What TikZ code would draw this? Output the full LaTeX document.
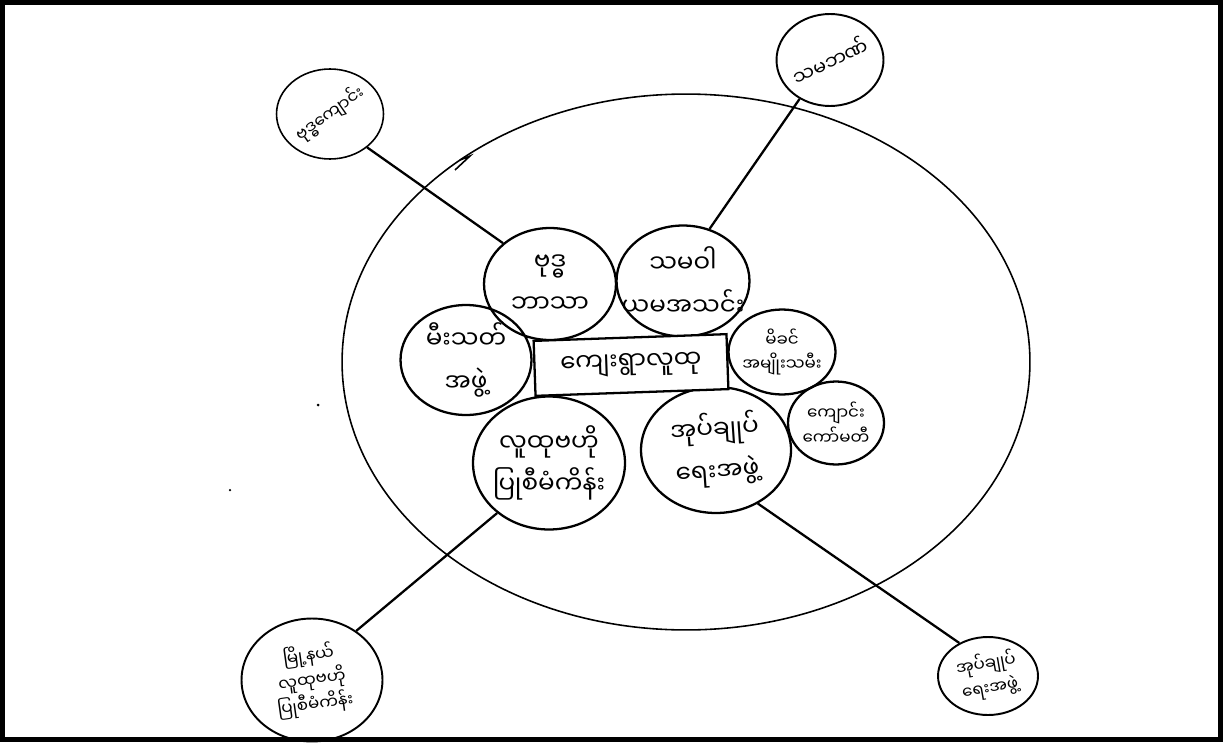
\documentclass[tikz,border=0pt]{standalone}
\usepackage{fontspec}
\newfontfamily\mmfont[Script=Myanmar]{Noto Sans Myanmar UI}
\usetikzlibrary{shapes.geometric}

\begin{document}
\begin{tikzpicture}[
        org/.style={ellipse, draw, line width=1.3pt, inner sep=0pt},
        far/.style={ellipse, draw, line width=1.1pt, inner sep=0pt},
        lbl/.style={align=center, inner sep=0pt, font=\mmfont\fontsize{14}{24}\selectfont},
        smalllbl/.style={align=center, inner sep=0pt, font=\mmfont\fontsize{11}{17}\selectfont},
        tinylbl/.style={align=center, inner sep=0pt, font=\mmfont\fontsize{9.5}{14}\selectfont},
        link/.style={line width=1.3pt}
    ]
        % Frame
        \useasboundingbox (0,0) rectangle (0.02* 1223, -0.02* 742);
        \draw[line width=0.1cm] (0.05,-0.05) rectangle (0.02* 1223-0.05, -0.02* 742+0.05);

        % Community
        \node[ellipse, draw, line width=0.9pt, minimum width=13.76cm, minimum height=10.72cm] at (0.02* 686, -0.02* 362) (village) {};
        \draw[line width=0.9pt] (0.02* 455, -0.02* 170) -- (0.02* 470, -0.02* 156) -- (0.02* 460, -0.02* 160);
        \fill (0.02* 318, -0.02* 405) circle (0.03);
        \fill (0.02* 230, -0.02* 490) circle (0.025);

        % Inner nodes
        \node[org, minimum width=2.64cm, minimum height=2.24cm] at (0.02* 550, -0.02* 284) (i1) {};
        \node[org, minimum width=2.66cm, minimum height=2.22cm] at (0.02* 683, -0.02* 281) (i2) {};
        \node[org, minimum width=2.62cm, minimum height=2.20cm] at (0.02* 466, -0.02* 360) (i3) {};
        \node[org, minimum width=2.14cm, minimum height=1.70cm] at (0.02* 782, -0.02* 352) (i4) {};
        \node[org, minimum width=1.92cm, minimum height=1.66cm] at (0.02* 836, -0.02* 423) (i5) {};
        \node[org, minimum width=3.04cm, minimum height=2.66cm] at (0.02* 549, -0.02* 463) (i6) {};
        \node[org, minimum width=3.00cm, minimum height=2.52cm] at (0.02* 716, -0.02* 450) (i7) {};
        \node[rectangle, draw, line width=1.3pt, fill=white, minimum width=3.86cm, minimum height=1.1cm, rotate=2] at (0.02* 631, -0.02* 365) (box) {};

        % Outer nodes
        \node[far, line width=0.9pt, minimum width=2.14cm, minimum height=1.80cm] at (0.02* 330, -0.02* 114) (o1) {};
        \node[far, minimum width=2.14cm, minimum height=1.84cm] at (0.02* 830, -0.02* 60) (o2) {};
        \node[far, minimum width=2.82cm, minimum height=2.46cm] at (0.02* 312, -0.02* 680) (o3) {};
        \node[far, minimum width=2.00cm, minimum height=1.56cm] at (0.02* 988, -0.02* 676) (o4) {};

        % Labels
        \node[lbl] at (i1) (i1t) {ဗုဒ္ဓ\\ဘာသာ};
        \node[lbl] at (i2) (i2t) {သမဝါ\\ယမအသင်း};
        \node[lbl] at (i3) (i3t) {မီးသတ်\\အဖွဲ့};
        \node[tinylbl] at (i4) (i4t) {မိခင်\\အမျိုးသမီး};
        \node[tinylbl] at (i5) (i5t) {ကျောင်း\\ကော်မတီ};
        \node[lbl] at (i6) (i6t) {လူထုဗဟို\\ပြုစီမံကိန်း};
        \node[lbl, rotate=4] at (i7) (i7t) {အုပ်ချုပ်\\ရေးအဖွဲ့};
        \node[lbl, rotate=2] at (box) (boxt) {ကျေးရွာလူထု};

        \node[tinylbl, rotate=35] at (o1) (o1t) {ဗုဒ္ဓကျောင်း};
        \node[smalllbl, rotate=25] at (o2) (o2t) {သမဘဏ်};
        \node[tinylbl, rotate=8] at (o3) (o3t) {မြို့နယ်\\လူထုဗဟို\\ပြုစီမံကိန်း};
        \node[tinylbl, rotate=10] at (o4) (o4t) {အုပ်ချုပ်\\ရေးအဖွဲ့};

        % Links
        \draw[link] (o1.-42) -- (i1.139);
        \draw[link] (o2.-128) -- (i2.63);
        \draw[link] (i6.-136) -- (o3.48);
        \draw[link] (i7.-52) -- (o4.131);
    \end{tikzpicture}
\end{document}
